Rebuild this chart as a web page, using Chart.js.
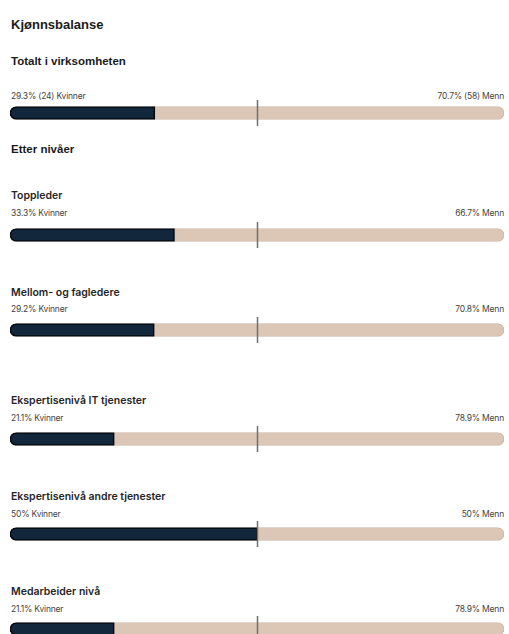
<!DOCTYPE html>
<html>
<head>
<meta charset="utf-8">
<script src="https://cdn.jsdelivr.net/npm/chart.js@4/dist/chart.umd.min.js"></script>
<style>
	body { margin: 0; width: 509px; height: 634px; overflow: hidden; background: #fff; position: relative; }
	.t { position: absolute; white-space: nowrap; line-height: 1; transform: translateY(-50%); color: #1b1b1b; }
	.h1 { font: bold 13px "Liberation Sans", Arial, sans-serif; }
	.h2 { font: bold 11.5px "Liberation Sans", Arial, sans-serif; }
	.h3 { font: 600 10.5px Inter, sans-serif; color: #262626; }
	.sub { font: 400 8.5px Inter, sans-serif; color: #444; letter-spacing: -0.2px; }
	canvas { position: absolute; left: 0; }
</style>
</head>
<body>
<div class="t h1" style="left:11px;top:24px">Kjønnsbalanse</div>
<div class="t h2" style="left:11px;top:61px">Totalt i virksomheten</div>
<div class="t h2" style="left:11px;top:149px">Etter nivåer</div>
<script>
// rader: tittel, kvinner %, menn %
var rowTitles   = ['', 'Toppleder', 'Mellom- og fagledere', 'Ekspertisenivå IT tjenester', 'Ekspertisenivå andre tjenester', 'Medarbeider nivå'];
var womenShare  = [29.3, 33.3, 29.2, 21.1, 50, 21.1];
var menShare    = [70.7, 66.7, 70.8, 78.9, 50, 78.9];
var womenLabels = ['29.3% (24) Kvinner', '33.3% Kvinner', '29.2% Kvinner', '21.1% Kvinner', '50% Kvinner', '21.1% Kvinner'];
var menLabels   = ['70.7% (58) Menn', '66.7% Menn', '70.8% Menn', '78.9% Menn', '50% Menn', '78.9% Menn'];

// layout (px)
var titleY = [0, 195, 292, 400, 496, 591];
var subY   = [96, 213, 309, 418, 514, 609];
var barY   = [113, 235, 330, 439, 534, 629];

var midLine = {
	id: 'midLine',
	afterDatasetsDraw: function(chart)
	{
		var ctx = chart.ctx;
		var x = Math.round(chart.scales.x.getPixelForValue(50)) + 0.5;
		ctx.save();
		ctx.strokeStyle = '#6f6f6f';
		ctx.lineWidth = 1.5;
		ctx.beginPath();
		ctx.moveTo(x, 2);
		ctx.lineTo(x, chart.height - 2);
		ctx.stroke();
		ctx.restore();
	}
};

function addText(cls, text, left, top, right)
{
	var d = document.createElement('div');
	d.className = 't ' + cls;
	d.textContent = text;
	d.style.top = top + 'px';
	if (right !== undefined) d.style.right = right + 'px'; else d.style.left = left + 'px';
	document.body.appendChild(d);
}

for (var i = 0; i < womenShare.length; i++)
{
	if (rowTitles[i]) addText('h3', rowTitles[i], 11, titleY[i]);
	addText('sub', womenLabels[i], 11, subY[i]);
	addText('sub', menLabels[i], 0, subY[i], 5);

	var c = document.createElement('canvas');
	c.width = 509;
	c.height = 30;
	c.style.top = (barY[i] - 15) + 'px';
	document.body.appendChild(c);

	new Chart(c, {
		type: 'bar',
		data: {
			labels: [rowTitles[i] || 'Totalt'],
			datasets: [
				{
					label: 'Kvinner',
					data: [womenShare[i]],
					backgroundColor: '#12263c',
					borderColor: '#03070c',
					borderWidth: 1.5,
					borderSkipped: false,
					borderRadius: { topLeft: 7, bottomLeft: 7, topRight: 0, bottomRight: 0 },
					barThickness: 13
				},
				{
					label: 'Menn',
					data: [menShare[i]],
					backgroundColor: '#dcc7b7',
					borderColor: '#cdb6a5',
					borderWidth: 1,
					borderSkipped: false,
					borderRadius: { topLeft: 0, bottomLeft: 0, topRight: 7, bottomRight: 7 },
					barThickness: 13
				}
			]
		},
		options: {
			indexAxis: 'y',
			responsive: false,
			animation: false,
			layout: { padding: { left: 10, right: 5, top: 0, bottom: 0 } },
			scales: {
				x: { stacked: true, min: 0, max: 100, display: false },
				y: { stacked: true, display: false }
			},
			plugins: { legend: { display: false }, tooltip: { enabled: false } }
		},
		plugins: [midLine]
	});
}
</script>
</body>
</html>
